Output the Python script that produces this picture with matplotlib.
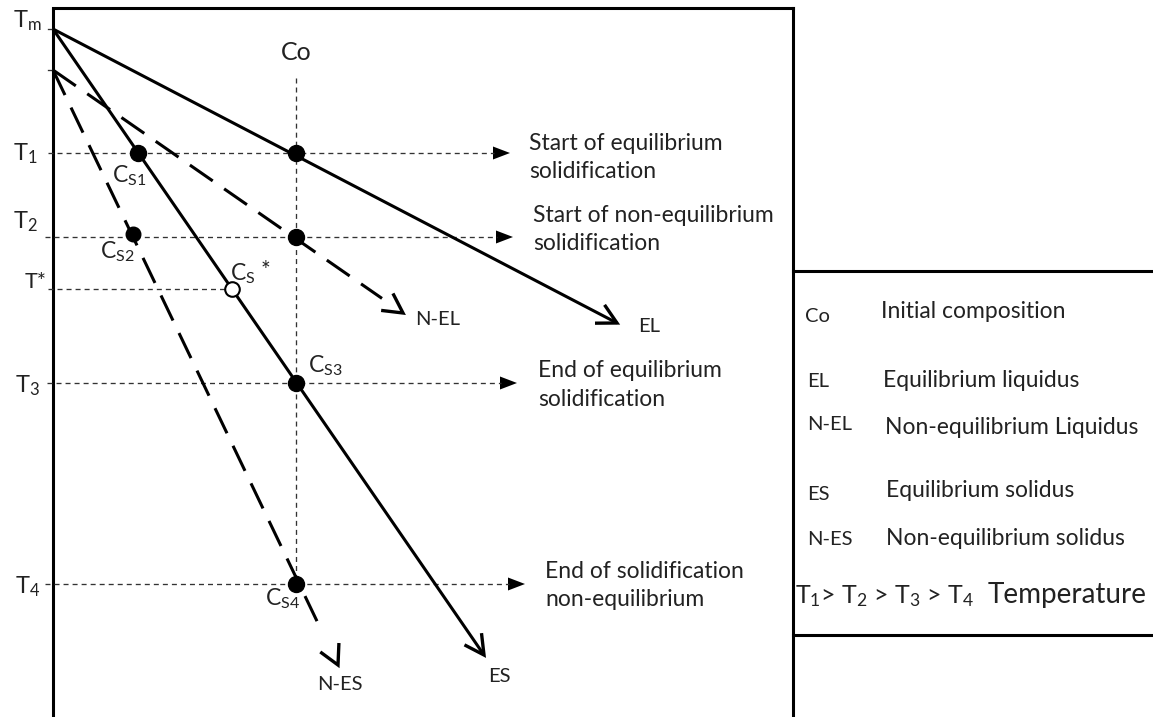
import numpy as np
import matplotlib
matplotlib.use("Agg")
import matplotlib.pyplot as plt
from matplotlib.patches import Polygon

plt.rcParams['font.family'] = ['Lato', 'DejaVu Sans']
plt.rcParams['mathtext.fontset'] = 'custom'
plt.rcParams['mathtext.rm'] = 'Lato'
plt.rcParams['mathtext.it'] = 'Lato:italic'
plt.rcParams['mathtext.bf'] = 'Lato:bold'
plt.rcParams['lines.scale_dashes'] = False

# ---------------- data (schematic diagram units) ----------------
axis_x = 53            # composition origin (left axis)
co_x = 296             # initial composition Co
neq_top = 70           # top of non-equilibrium lines
temp_names = ["Tm", "T1", "T2", "T*", "T3", "T4"]
temp_y = [29, 153, 237, 289, 383, 584]
T = dict(zip(temp_names, temp_y))

line_names = ["EL", "ES", "N-EL", "N-ES"]
line_start = [(53, 29), (53, 29), (53, 70), (53, 70)]
line_end = [(617, 323), (484, 655), (403, 313), (338, 665)]
line_dashed = [False, False, True, True]
line_label_pos = [(638, 332), (488, 682), (415, 325), (317, 690)]

guide_levels = ["T1", "T2", "T3", "T4"]
guide_tip_x = [510, 513, 517, 525]
guide_start_x = [48, 45, 47, 45]
guide_text = ["Start of equilibrium\nsolidification",
              "Start of non-equilibrium\nsolidification",
              "End of equilibrium\nsolidification",
              "End of solidification\nnon-equilibrium"]
guide_text_x = [529, 533, 538, 545]
guide_text_base = [150, 222, 377, 578]

legend_keys = ["Co", "EL", "N-EL", "ES", "N-ES"]
legend_desc = ["Initial composition", "Equilibrium liquidus",
               "Non-equilibrium Liquidus", "Equilibrium solidus",
               "Non-equilibrium solidus"]
legend_key_y = [322, 387, 430, 500, 545]
legend_desc_y = [318, 387, 434, 497, 545]
legend_desc_x = [881, 883, 885, 886, 886]

W, H = 1153, 717
fig = plt.figure(figsize=(W / 100, H / 100), dpi=100)
ax = fig.add_axes([0, 0, 1, 1])
ax.set_xlim(0, W)
ax.set_ylim(H, 0)
ax.axis('off')

def x_at(i, y):
    (x0, y0), (x1, y1) = line_start[i], line_end[i]
    return x0 + (y - y0) * (x1 - x0) / (y1 - y0)

thin = dict(color='#333333', lw=0.95, dashes=(3.6, 2.9))
box_lw = 2.2
right_x = 793
TXT = '#222222'

# frame
ax.plot([axis_x, axis_x], [8, H], color='black', lw=box_lw, solid_capstyle='butt')
ax.plot([axis_x, right_x], [8, 8], color='black', lw=box_lw, solid_capstyle='projecting')
ax.plot([right_x, right_x], [8, H], color='black', lw=box_lw, solid_capstyle='projecting')
for yy in [271, 635]:
    ax.plot([right_x, W], [yy, yy], color='black', lw=box_lw)

# small ticks
for yy in [T["Tm"], neq_top]:
    ax.plot([48, axis_x], [yy, yy], color='#333333', lw=0.95)

# vertical Co guide
ax.plot([co_x, co_x], [78, T["T4"]], **thin)

# horizontal guides with filled arrow heads
for lev, xs, xt, txt, tx, tb in zip(guide_levels, guide_start_x, guide_tip_x,
                                     guide_text, guide_text_x, guide_text_base):
    y = T[lev]
    ax.plot([xs, xt - 16], [y, y], **thin)
    ax.add_patch(Polygon([(xt, y), (xt - 17, y - 6.5), (xt - 17, y + 6.5)],
                         closed=True, color='black', lw=0))
    l1, l2 = txt.split("\n")
    ax.text(tx, tb, l1, fontsize=16.5, ha='left', va='baseline', color=TXT)
    ax.text(tx, tb + 28.5, l2, fontsize=16.5, ha='left', va='baseline', color=TXT)

# T* guide up to C_S*
cs_star_x = x_at(1, T["T*"])
ax.plot([48, cs_star_x], [T["T*"], T["T*"]], **thin)

# main thick lines with open arrow heads
for i, name in enumerate(line_names):
    (x0, y0), (x1, y1) = line_start[i], line_end[i]
    kw = dict(color='black', lw=2.2, solid_capstyle='butt')
    if line_dashed[i]:
        kw.update(dashes=(20, 10), dash_capstyle='butt')
        ax.plot([x0, x1 - (x1 - x0) * 0.06], [y0, y1 - (y1 - y0) * 0.06], **kw)
    else:
        ax.plot([x0, x1], [y0, y1], **kw)
    u = np.array([x1 - x0, y1 - y0], float)
    u /= np.hypot(*u)
    arms = []
    for ang in (28, -28):
        a = np.radians(ang)
        r = np.array([u[0] * np.cos(a) - u[1] * np.sin(a),
                      u[0] * np.sin(a) + u[1] * np.cos(a)])
        arms.append(np.array([x1, y1]) - 22 * r)
    ax.plot([arms[0][0], x1, arms[1][0]], [arms[0][1], y1, arms[1][1]],
            color='black', lw=2.4, solid_joinstyle='miter', solid_capstyle='butt')
    lx, ly = line_label_pos[i]
    ax.text(lx, ly, name, fontsize=14.5, ha='left', va='baseline', color=TXT)

# dots
for lev in ["T1", "T2", "T3", "T4"]:
    ax.plot([co_x], [T[lev]], 'o', ms=11.5, color='black', zorder=5)
ax.plot([x_at(1, T["T1"])], [T["T1"]], 'o', ms=11.5, color='black', zorder=5)
ax.plot([x_at(3, T["T2"])], [T["T2"] - 3], 'o', ms=10.5, color='black', zorder=5)
ax.plot([cs_star_x], [T["T*"]], 'o', ms=10.5, mfc='white', mec='black', mew=1.5, zorder=5)

# point labels
S = r"$_\mathregular{%s}$"
ax.text(112, 182, "C" + S % "S1", fontsize=16.5, va='baseline', color=TXT)
ax.text(100, 258, "C" + S % "S2", fontsize=16.5, va='baseline', color=TXT)
ax.text(230, 280, "C" + S % "S", fontsize=16.5, va='baseline', color=TXT)
ax.text(261, 277, "*", fontsize=16.5, va='baseline', color=TXT)
ax.text(308, 372, "C" + S % "S3", fontsize=16.5, va='baseline', color=TXT)
ax.text(265, 605, "C" + S % "S4", fontsize=16.5, va='baseline', color=TXT)

# temperature labels
ax.text(13, 27, "T" + S % "m", fontsize=17, va='baseline', color=TXT)
ax.text(13, 160, "T" + S % "1", fontsize=17, va='baseline', color=TXT)
ax.text(13, 228, "T" + S % "2", fontsize=17, va='baseline', color=TXT)
ax.text(25, 288, "T*", fontsize=15.5, va='baseline', color=TXT)
ax.text(15, 392, "T" + S % "3", fontsize=17, va='baseline', color=TXT)
ax.text(15, 593, "T" + S % "4", fontsize=17, va='baseline', color=TXT)
ax.text(co_x, 60, "Co", fontsize=18, ha='center', va='baseline', color=TXT)

# legend box
for k, d, ky, dy, dx in zip(legend_keys, legend_desc, legend_key_y, legend_desc_y, legend_desc_x):
    ax.text(805 if k == "Co" else 807, ky, k, fontsize=14.5, va='baseline', color=TXT)
    ax.text(dx, dy, d, fontsize=16.5, va='baseline', color=TXT)
ax.text(795, 603, "T" + S % "1" + "> T" + S % "2" + " > T" + S % "3" + " > T" + S % "4",
        fontsize=18, va='baseline', color=TXT)
ax.text(988, 603, "Temperature", fontsize=20, va='baseline', color=TXT)

fig.savefig("out.png", dpi=100)
